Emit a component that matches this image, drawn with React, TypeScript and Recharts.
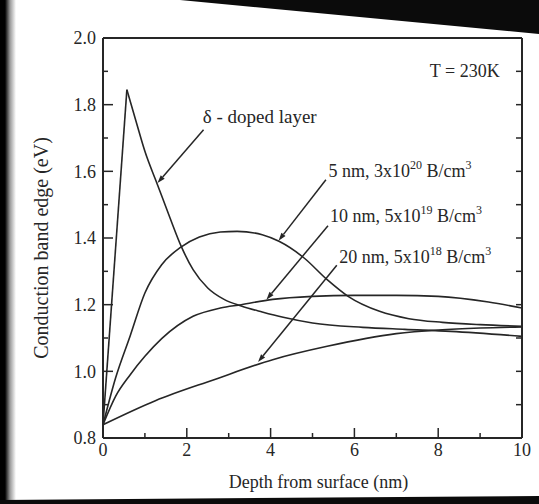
import React from "react";
import { LineChart, Line, XAxis, YAxis, ReferenceLine, ReferenceDot } from "recharts";

const INK = "#262626";
const FONT = "'Liberation Serif', 'Times New Roman', serif";

// depth from surface (nm) / conduction band edge (eV)
const deltaDepth = [0, 0.57, 0.8, 1.0, 1.3, 1.6, 1.87, 2.15, 2.5, 2.9, 3.3, 3.8, 4.3, 5.0, 6.2, 7.2, 8.3, 10];
const deltaEdge = [0.84, 1.845, 1.745, 1.66, 1.56, 1.46, 1.374, 1.305, 1.25, 1.215, 1.196, 1.178, 1.162, 1.145, 1.132, 1.126, 1.12, 1.105];

const nm5Depth = [0, 0.3, 0.65, 1.0, 1.4, 1.85, 2.3, 2.8, 3.2, 3.8, 4.2, 4.8, 5.35, 5.85, 6.6, 7.3, 8.1, 9.0, 10];
const nm5Edge = [0.84, 0.98, 1.107, 1.235, 1.32, 1.372, 1.403, 1.418, 1.42, 1.41, 1.39, 1.34, 1.275, 1.225, 1.18, 1.158, 1.147, 1.14, 1.135];

const nm10Depth = [0, 0.3, 0.65, 1.0, 1.4, 2.15, 2.8, 3.3, 4.05, 5.0, 6.0, 7.0, 8.0, 9.2, 10];
const nm10Edge = [0.84, 0.925, 0.99, 1.045, 1.098, 1.165, 1.19, 1.2, 1.216, 1.225, 1.228, 1.228, 1.225, 1.208, 1.19];

const nm20Depth = [0, 1.25, 2.65, 4.05, 5.35, 7.0, 8.0, 9.0, 10];
const nm20Edge = [0.84, 0.912, 0.975, 1.035, 1.075, 1.113, 1.124, 1.13, 1.133];

const xTicks = [0, 1, 2, 3, 4, 5, 6, 7, 8, 9, 10];
const yTicks = [0.8, 0.9, 1.0, 1.1, 1.2, 1.3, 1.4, 1.5, 1.6, 1.7, 1.8, 1.9, 2.0];

// annotation text and arrows (depth, energy)
const notes = [
  { at: [2.38, 1.745], size: 19, parts: [["δ - doped layer", 0]] },
  { at: [5.38, 1.582], size: 18, parts: [["5 nm, 3x10", 0], ["20", 1], [" B/cm", 0], ["3", 1]] },
  { at: [5.42, 1.448], size: 18, parts: [["10 nm, 5x10", 0], ["19", 1], [" B/cm", 0], ["3", 1]] },
  { at: [5.64, 1.325], size: 18, parts: [["20 nm, 5x10", 0], ["18", 1], [" B/cm", 0], ["3", 1]] },
  { at: [7.8, 1.883], size: 18, parts: [["T = 230K", 0]] },
];
const arrows = [
  { from: [2.4, 1.725], to: [1.3, 1.565] },
  { from: [5.32, 1.575], to: [4.19, 1.392] },
  { from: [5.37, 1.437], to: [3.9, 1.215] },
  { from: [5.58, 1.318], to: [3.7, 1.028] },
];

const rows = (xs: number[], ys: number[]) => xs.map((x, i) => ({ x, y: ys[i] }));
const delta = rows(deltaDepth, deltaEdge);
const deltaRise = delta.slice(0, 2);
const deltaFall = delta.slice(1);

const isMajorX = (v: number) => v % 2 === 0;
const isMajorY = (v: number) => Math.round(v * 10) % 2 === 0;

const BottomTick = ({ x, y, payload }: any) => {
  const major = isMajorX(payload.value);
  return (
    <g>
      <line x1={x} x2={x} y1={y} y2={y - (major ? 10 : 5)} stroke={INK} strokeWidth={1.5} />
      {major && (
        <text x={x} y={y + 18} textAnchor="middle" fontSize={18} fontFamily={FONT} fill={INK}>
          {payload.value}
        </text>
      )}
    </g>
  );
};

const TopTick = ({ x, y, payload }: any) => (
  <line x1={x} x2={x} y1={y} y2={y + (isMajorX(payload.value) ? 10 : 5)} stroke={INK} strokeWidth={1.5} />
);

const LeftTick = ({ x, y, payload }: any) => {
  const major = isMajorY(payload.value);
  return (
    <g>
      <line x1={x} x2={x + (major ? 10 : 5)} y1={y} y2={y} stroke={INK} strokeWidth={1.5} />
      {major && (
        <text x={x - 7} y={y} dy="0.35em" textAnchor="end" fontSize={18} fontFamily={FONT} fill={INK}>
          {payload.value.toFixed(1)}
        </text>
      )}
    </g>
  );
};

const RightTick = ({ x, y }: any) => (
  <line x1={x} x2={x - 6} y1={y} y2={y} stroke={INK} strokeWidth={1.5} />
);

const XTitle = ({ viewBox }: any) => (
  <text x={viewBox.x + viewBox.width / 2 + 6} y={488} textAnchor="middle" fontSize={18} fontFamily={FONT} fill={INK}>
    Depth from surface (nm)
  </text>
);

const YTitle = ({ viewBox }: any) => {
  const cx = 41;
  const cy = viewBox.y + viewBox.height / 2 + 10;
  return (
    <text
      x={cx}
      y={cy}
      transform={`rotate(-90, ${cx}, ${cy})`}
      textAnchor="middle"
      dominantBaseline="central"
      fontSize={20}
      fontFamily={FONT}
      fill={INK}
    >
      Conduction band edge (eV)
    </text>
  );
};

const Note = ({ viewBox, parts, size }: any) => {
  let up = false;
  return (
    <text x={viewBox.x} y={viewBox.y} fontSize={size} fontFamily={FONT} fill={INK}>
      {parts.map(([s, sup]: [string, number], i: number) => {
        const dy = sup && !up ? -8 : !sup && up ? 8 : 0;
        up = !!sup;
        return (
          <tspan key={i} dy={dy} fontSize={sup ? 12 : size}>
            {s}
          </tspan>
        );
      })}
    </text>
  );
};

const Arrow = ({ x1, y1, x2, y2 }: any) => {
  const a = Math.atan2(y2 - y1, x2 - x1);
  const len = 8;
  const w = 2.6;
  const bx = x2 - len * Math.cos(a);
  const by = y2 - len * Math.sin(a);
  const pts = `${x2},${y2} ${bx - w * Math.sin(a)},${by + w * Math.cos(a)} ${bx + w * Math.sin(a)},${by - w * Math.cos(a)}`;
  return (
    <g>
      <line x1={x1} y1={y1} x2={bx} y2={by} stroke={INK} strokeWidth={1.5} />
      <polygon points={pts} fill={INK} />
    </g>
  );
};

const lineProps = {
  xAxisId: "b",
  yAxisId: "l",
  dataKey: "y",
  stroke: INK,
  strokeWidth: 1.6,
  dot: false,
  isAnimationActive: false,
};

export default function App() {
  return (
    <div
      style={{
        position: "absolute",
        left: 0,
        top: 0,
        width: 539,
        height: 504,
        overflow: "hidden",
        background: "#0b0b0b",
      }}
    >
      <div
        style={{
          position: "absolute",
          inset: 0,
          background: "linear-gradient(to right, #000 0px, #000 5px, #9a9a9a 10px, #fff 16px)",
          clipPath: "polygon(0px 0px, 180px 0px, 539px 34px, 539px 496px, 0px 500px)",
        }}
      />
      <div style={{ position: "absolute", left: 0, top: 0 }}>
        <LineChart width={539} height={504} margin={{ top: 37, right: 16, bottom: 0, left: 0 }}>
          <XAxis
            xAxisId="b"
            type="number"
            dataKey="x"
            domain={[0, 10]}
            ticks={xTicks}
            allowDataOverflow
            height={66}
            tickSize={0}
            tickMargin={0}
            tickLine={false}
            tick={<BottomTick />}
            axisLine={{ stroke: INK, strokeWidth: 2 }}
            label={<XTitle />}
          />
          <XAxis
            xAxisId="t"
            orientation="top"
            type="number"
            domain={[0, 10]}
            ticks={xTicks}
            allowDataOverflow
            height={1}
            tickSize={0}
            tickMargin={0}
            tickLine={false}
            tick={<TopTick />}
            axisLine={{ stroke: INK, strokeWidth: 2 }}
          />
          <YAxis
            yAxisId="l"
            type="number"
            domain={[0.8, 2.0]}
            ticks={yTicks}
            allowDataOverflow
            width={103}
            tickSize={0}
            tickMargin={0}
            tickLine={false}
            tick={<LeftTick />}
            axisLine={{ stroke: INK, strokeWidth: 2 }}
            label={<YTitle />}
          />
          <YAxis
            yAxisId="r"
            orientation="right"
            type="number"
            domain={[0.8, 2.0]}
            ticks={yTicks}
            allowDataOverflow
            width={1}
            tickSize={0}
            tickMargin={0}
            tickLine={false}
            tick={<RightTick />}
            axisLine={{ stroke: INK, strokeWidth: 2 }}
          />

          {/* delta-doped layer: sharp spike then decay */}
          <Line {...lineProps} data={deltaRise} type="linear" />
          <Line {...lineProps} data={deltaFall} type="monotone" />
          <Line {...lineProps} data={rows(nm5Depth, nm5Edge)} type="monotone" />
          <Line {...lineProps} data={rows(nm10Depth, nm10Edge)} type="monotone" />
          <Line {...lineProps} data={rows(nm20Depth, nm20Edge)} type="monotone" />

          {arrows.map((a, i) => (
            <ReferenceLine
              key={`a${i}`}
              xAxisId="b"
              yAxisId="l"
              segment={[
                { x: a.from[0], y: a.from[1] },
                { x: a.to[0], y: a.to[1] },
              ]}
              ifOverflow="visible"
              shape={<Arrow />}
            />
          ))}
          {notes.map((n, i) => (
            <ReferenceDot
              key={`n${i}`}
              xAxisId="b"
              yAxisId="l"
              x={n.at[0]}
              y={n.at[1]}
              r={0}
              stroke="none"
              fill="none"
              ifOverflow="visible"
              label={<Note parts={n.parts} size={n.size} />}
            />
          ))}
        </LineChart>
      </div>
    </div>
  );
}
